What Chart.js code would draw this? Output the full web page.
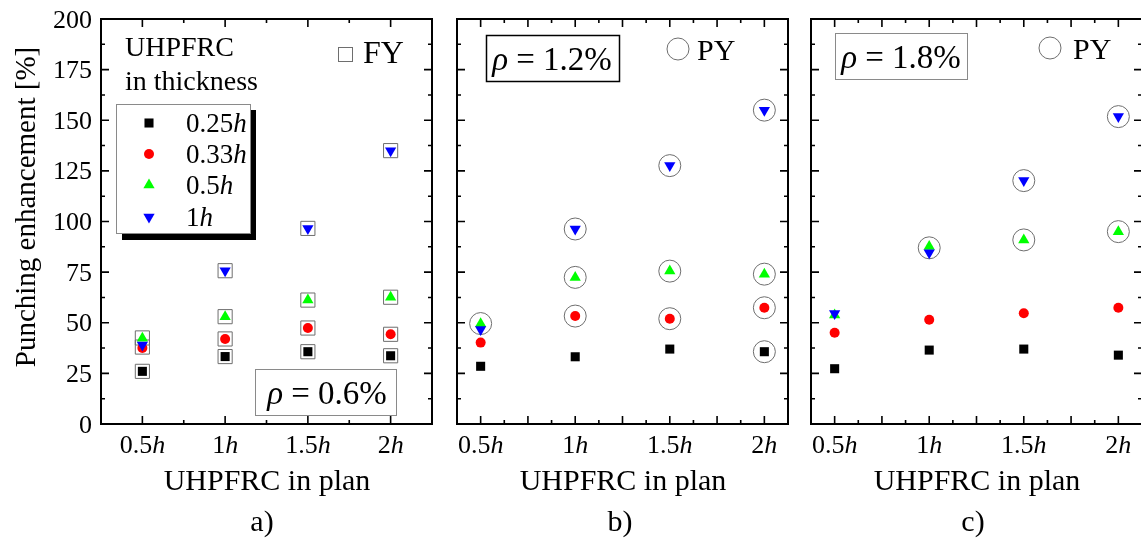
<!DOCTYPE html>
<html><head><meta charset="utf-8">
<script src="https://cdn.jsdelivr.net/npm/chart.js@4.4.1/dist/chart.umd.min.js"></script>
<style>
html,body{margin:0;padding:0;background:#fff;overflow:hidden;width:1141px;height:540px;position:relative}
canvas{position:absolute;left:0;top:0}
</style></head><body>
<canvas id="ca" width="1141" height="540"></canvas>
<canvas id="cb" width="1141" height="540"></canvas>
<canvas id="cc" width="1160" height="540"></canvas>
<script>
// ---------- data ----------
const categories = [0.5, 1, 1.5, 2];
const xTickNums = ['0.5', '1', '1.5', '2'];          // each followed by italic "h"
const seriesNames = ['0.25', '0.33', '0.5', '1'];    // each followed by italic "h"
const yTickValues = [0, 25, 50, 75, 100, 125, 150, 175, 200];

// panel a) rho = 0.6 %
const a_black = [26, 33.3, 35.7, 33.7];
const a_red   = [37.5, 42, 47.4, 44.3];
const a_green = [42.3, 53, 61.2, 62.6];
const a_blue  = [39, 75.7, 96.6, 135];
const a_fyX = [0.5, 0.5, 0.5, 1, 1, 1, 1, 1.5, 1.5, 1.5, 1.5, 2, 2, 2, 2];
const a_fyY = [26, 38, 42.5, 33.3, 42, 53, 75.7, 35.7, 47.4, 61.2, 96.6, 33.7, 44.3, 62.6, 135];

// panel b) rho = 1.2 %
const b_black = [28.5, 33.2, 37, 35.7];
const b_red   = [40.2, 53.3, 52, 57.4];
const b_green = [49.5, 72.4, 75.5, 74];
const b_blue  = [46.7, 96.3, 127.6, 155];
const b_pyX = [0.5, 1, 1, 1, 1.5, 1.5, 1.5, 2, 2, 2, 2];
const b_pyY = [49.6, 53.3, 72.4, 96.3, 52, 75.5, 127.6, 35.7, 57.4, 74, 155];

// panel c) rho = 1.8 %
const c_black = [27.3, 36.5, 37, 34];
const c_red   = [45.1, 51.5, 54.7, 57.4];
const c_green = [53.8, 87.7, 90.9, 95];
const c_blue  = [54.6, 84.6, 120.2, 151.8];
const c_pyX = [1, 1.5, 1.5, 2, 2];
const c_pyY = [87, 90.9, 120.2, 95, 151.8];

// ---------- styles ----------
const COLORS = ['#000000', '#ff0000', '#00ff00', '#0000ff'];
const STYLES = [
  {pointStyle: 'rect', radius: 6.4, rotation: 0},
  {pointStyle: 'circle', radius: 5, rotation: 0},
  {pointStyle: 'triangle', radius: 6.5, rotation: 0},
  {pointStyle: 'triangle', radius: 6.5, rotation: 180}
];
const FONT = '"Liberation Serif", "Times New Roman", serif';

function pts(xs, ys) { return xs.map((x, i) => ({x: x, y: ys[i]})); }

function drawRich(ctx, parts, x, y, size, align) {
  let w = 0; const ws = [];
  parts.forEach(p => { ctx.font = (p[1] ? 'italic ' : '') + size + 'px ' + FONT; const m = ctx.measureText(p[0]).width; ws.push(m); w += m; });
  let cx = align === 'center' ? x - w / 2 : align === 'right' ? x - w : x;
  ctx.textAlign = 'left'; ctx.textBaseline = 'alphabetic'; ctx.fillStyle = '#000';
  parts.forEach((p, i) => { ctx.font = (p[1] ? 'italic ' : '') + size + 'px ' + FONT; ctx.fillText(p[0], cx, y); cx += ws[i]; });
}

function makeFramePlugin(cfg) {
  return {
    id: 'frame_' + cfg.id,
    afterDraw(chart) {
      const ctx = chart.ctx, xs = chart.scales.x, ys = chart.scales.y;
      const L = xs.getPixelForValue(xs.min), R = xs.getPixelForValue(xs.max);
      const T = ys.getPixelForValue(ys.max), B = ys.getPixelForValue(ys.min);
      ctx.save();
      ctx.strokeStyle = '#000'; ctx.lineWidth = 2;
      ctx.strokeRect(L, T, R - L, B - T);
      ctx.lineWidth = 1.6;
      ctx.beginPath();
      for (let v = xs.min; v <= xs.max + 1e-9; v += cfg.xMinor) {
        const major = Math.abs(v / cfg.xMajor - Math.round(v / cfg.xMajor)) < 1e-6;
        const len = major ? 8 : 4;
        const px = xs.getPixelForValue(v);
        if (px <= L + 1 || px >= R - 1) continue;
        ctx.moveTo(px, B); ctx.lineTo(px, B - len);
        ctx.moveTo(px, T); ctx.lineTo(px, T + len);
      }
      for (let v = 0; v <= 200 + 1e-9; v += 12.5) {
        const major = Math.abs(v / 25 - Math.round(v / 25)) < 1e-6;
        const len = major ? 8 : 4;
        const py = ys.getPixelForValue(v);
        if (py <= T + 1 || py >= B - 1) continue;
        ctx.moveTo(L, py); ctx.lineTo(L + len, py);
        ctx.moveTo(R, py); ctx.lineTo(R - len, py);
      }
      ctx.stroke();
      categories.forEach((c, i) => {
        drawRich(ctx, [[xTickNums[i], false], ['h', true]], xs.getPixelForValue(c), 453, 26, 'center');
      });
      if (cfg.yLabels) {
        yTickValues.forEach(v => {
          drawRich(ctx, [[String(v), false]], 92, ys.getPixelForValue(v) + 8.5, 26, 'right');
        });
        ctx.save();
        ctx.translate(35, 207); ctx.rotate(-Math.PI / 2);
        drawRich(ctx, [['Punching enhancement [%]', false]], 0, 0, 29, 'center');
        ctx.restore();
      }
      drawRich(ctx, [['UHPFRC in plan', false]], cfg.titleX, 490, 30, 'center');
      drawRich(ctx, [[cfg.letter, false]], cfg.letterX, 531, 30, 'center');
      if (cfg.extra) cfg.extra(ctx, chart);
      ctx.restore();
    }
  };
}

function markerDatasets(black, red, green, blue) {
  return [blue, green, red, black].map((arr, k) => {
    const idx = 3 - k;
    const st = STYLES[idx];
    return {
      label: seriesNames[idx] + 'h',
      data: pts(categories, arr),
      pointStyle: st.pointStyle, pointRadius: st.radius, pointRotation: st.rotation,
      pointBackgroundColor: COLORS[idx], pointBorderColor: COLORS[idx], pointBorderWidth: 0,
      showLine: false, clip: false, order: k + 1
    };
  });
}

function ringDataset(xs, ys, style, radius, label) {
  return {
    label: label, data: pts(xs, ys), pointStyle: style, pointRadius: radius,
    pointBackgroundColor: 'rgba(0,0,0,0)', pointBorderColor: '#6e6e6e', pointBorderWidth: 1,
    showLine: false, clip: false, order: 10
  };
}

function drawPt(ctx, idx, x, y) {
  const st = STYLES[idx];
  ctx.save();
  ctx.fillStyle = COLORS[idx]; ctx.strokeStyle = COLORS[idx];
  if (window.Chart && Chart.helpers && Chart.helpers.drawPoint) {
    Chart.helpers.drawPoint(ctx, {pointStyle: st.pointStyle, radius: st.radius, rotation: st.rotation, borderWidth: 0}, x, y);
  }
  ctx.restore();
}

function baseOptions(padding, xmin, xmax) {
  return {
    responsive: false, animation: false, events: [],
    layout: {padding: padding},
    plugins: {legend: {display: false}, tooltip: {enabled: false}},
    scales: {
      x: {type: 'linear', min: xmin, max: xmax, display: false},
      y: {type: 'linear', min: 0, max: 200, display: false}
    }
  };
}

// ---------- panel a ----------
new Chart(document.getElementById('ca'), {
  type: 'scatter',
  data: {datasets: markerDatasets(a_black, a_red, a_green, a_blue).concat([ringDataset(a_fyX, a_fyY, 'rect', 10, 'FY')])},
  options: baseOptions({left: 101, top: 19, right: 1141 - 432, bottom: 540 - 424}, 0.25, 2.25),
  plugins: [makeFramePlugin({id: 'a', xMajor: 0.5, xMinor: 0.25, yLabels: true, letter: 'a)', titleX: 267, letterX: 262,
    extra(ctx) {
      drawRich(ctx, [['UHPFRC', false]], 125, 56, 28, 'left');
      drawRich(ctx, [['in thickness', false]], 125, 90, 28, 'left');
      ctx.strokeStyle = '#6e6e6e'; ctx.lineWidth = 1;
      ctx.strokeRect(338.5, 47.5, 14, 14);
      drawRich(ctx, [['FY', false]], 363, 63, 32, 'left');
      ctx.fillStyle = '#000'; ctx.fillRect(122, 110, 134, 130);
      ctx.fillStyle = '#fff'; ctx.fillRect(116, 104, 135, 130);
      ctx.strokeStyle = '#8a8a8a'; ctx.lineWidth = 1; ctx.strokeRect(116.5, 104.5, 134, 129);
      const rows = [123, 154, 185, 217];
      rows.forEach((ry, i) => {
        drawPt(ctx, i, 149, ry);
        drawRich(ctx, [[seriesNames[i], false], ['h', true]], 186, ry + 9, 27, 'left');
      });
      ctx.fillStyle = '#fff'; ctx.fillRect(255, 369, 141, 46);
      ctx.strokeStyle = '#8a8a8a'; ctx.strokeRect(255.5, 369.5, 141, 46);
      drawRich(ctx, [['\u03C1', true], [' = 0.6%', false]], 327, 404, 33, 'center');
    }})]
});

// ---------- panel b ----------
new Chart(document.getElementById('cb'), {
  type: 'scatter',
  data: {datasets: markerDatasets(b_black, b_red, b_green, b_blue).concat([ringDataset(b_pyX, b_pyY, 'circle', 11, 'PY')])},
  options: baseOptions({left: 457, top: 19, right: 1141 - 788, bottom: 540 - 424}, 0.375, 2.125),
  plugins: [makeFramePlugin({id: 'b', xMajor: 0.25, xMinor: 0.125, yLabels: false, letter: 'b)', titleX: 623, letterX: 620,
    extra(ctx) {
      ctx.strokeStyle = '#000'; ctx.lineWidth = 1.5; ctx.strokeRect(486.5, 35.5, 133, 46);
      drawRich(ctx, [['\u03C1', true], [' = 1.2%', false]], 552, 70, 33, 'center');
      ctx.strokeStyle = '#6e6e6e'; ctx.lineWidth = 1;
      ctx.beginPath(); ctx.arc(678, 49, 11, 0, Math.PI * 2); ctx.stroke();
      drawRich(ctx, [['PY', false]], 697, 60, 30, 'left');
    }})]
});

// ---------- panel c ----------
new Chart(document.getElementById('cc'), {
  type: 'scatter',
  data: {datasets: markerDatasets(c_black, c_red, c_green, c_blue).concat([ringDataset(c_pyX, c_pyY, 'circle', 11, 'PY')])},
  options: baseOptions({left: 811, top: 19, right: 1160 - 1142, bottom: 540 - 424}, 0.375, 2.125),
  plugins: [makeFramePlugin({id: 'c', xMajor: 0.25, xMinor: 0.125, yLabels: false, letter: 'c)', titleX: 977, letterX: 973,
    extra(ctx) {
      ctx.strokeStyle = '#8a8a8a'; ctx.lineWidth = 1; ctx.strokeRect(835.5, 33.5, 132, 46);
      drawRich(ctx, [['\u03C1', true], [' = 1.8%', false]], 901, 68, 33, 'center');
      ctx.strokeStyle = '#6e6e6e'; ctx.lineWidth = 1;
      ctx.beginPath(); ctx.arc(1050, 48, 11, 0, Math.PI * 2); ctx.stroke();
      drawRich(ctx, [['PY', false]], 1073, 59, 30, 'left');
    }})]
});
</script>
</body></html>
